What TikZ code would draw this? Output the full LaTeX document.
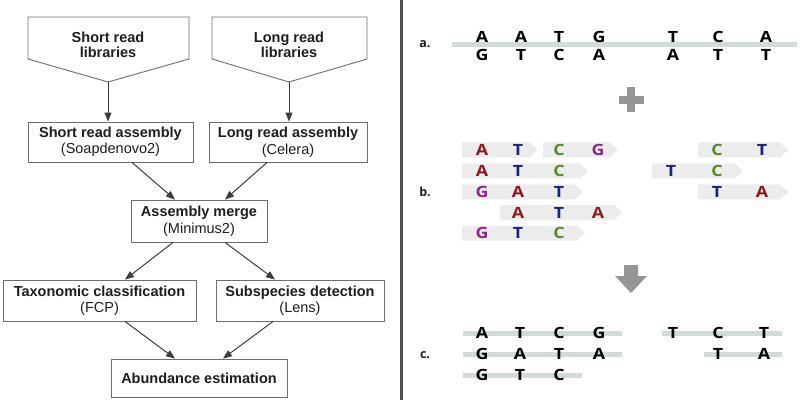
\documentclass[tikz,border=0pt]{standalone}
\usepackage{fontspec}
\setmainfont{Liberation Sans}
\newfontfamily\basefont{Open Sans}
\usetikzlibrary{arrows.meta}
\definecolor{boxgray}{RGB}{110,110,110}
\definecolor{txt}{RGB}{30,30,30}
\definecolor{arrcol}{RGB}{60,60,60}
\definecolor{barcol}{RGB}{210,218,218}
\definecolor{readcol}{RGB}{236,236,236}
\definecolor{bigarrow}{RGB}{150,150,150}
\definecolor{divcol}{RGB}{80,80,80}
\definecolor{nR}{RGB}{140,25,25}
\definecolor{nB}{RGB}{25,35,125}
\definecolor{nG}{RGB}{80,140,40}
\definecolor{nP}{RGB}{140,40,140}
\newcommand{\nuc}[5]{\node[nucl, text=#4] (#5) at (#1,#2) {\scalebox{1.15}[1]{#3}};}
\newcommand{\readshape}[3]{\fill[readcol] (#1,{#3-7.5}) -- ({#2-8},{#3-7.5}) -- (#2,#3) -- ({#2-8},{#3+7.5}) -- (#1,{#3+7.5}) -- cycle;}
\begin{document}
\begin{tikzpicture}[x=1pt,y=-1pt,
  box/.style={draw=boxgray, line width=0.9pt, minimum width=#1, minimum height=40pt, inner sep=0pt, align=center, text=txt, font=\fontsize{14.5}{16.5}\selectfont},
  lbl/.style={align=center, text=txt, inner sep=0pt, font=\fontsize{14.5}{15}\selectfont\bfseries},
  pent/.style={draw=boxgray, line width=0.9pt},
  arr/.style={draw=arrcol, line width=1pt, -{Triangle[length=9pt,width=7pt]}},
  nucl/.style={inner sep=0pt, font=\fontsize{15.5}{16}\selectfont\basefont\bfseries},
  plbl/.style={inner sep=0pt, text=txt, font=\fontsize{12.5}{13}\selectfont\basefont\bfseries},
  bar/.style={draw=barcol, line width=5pt}]
\useasboundingbox (0,0) rectangle (800,406);

% ---------------- left panel ----------------
\draw[pent] (28,17) -- (189,17) -- (189,59) -- (108,82) -- (28,59) -- cycle;
\draw[pent] (212,17) -- (367,17) -- (367,59) -- (289,82) -- (212,59) -- cycle;
\node[lbl] (srl) at (108,45) {Short read\\libraries};
\node[lbl] (lrl) at (289,45) {Long read\\libraries};
\coordinate (srltip) at (108,82);
\coordinate (lrltip) at (289,82);

\node[box=165] (sra) at (110.5,142) {\textbf{Short read assembly}\\(Soapdenovo2)};
\node[box=158] (lra) at (288,142) {\textbf{Long read assembly}\\(Celera)};
\node[box=136, minimum height=42pt] (merge) at (199,221) {\textbf{Assembly merge}\\(Minimus2)};
\node[box=193, minimum height=41pt] (tax) at (99.5,300.5) {\textbf{Taxonomic classification}\\(FCP)};
\node[box=168, minimum height=41pt] (sub) at (300,300.5) {\textbf{Subspecies detection}\\(Lens)};
\node[box=176, minimum height=38pt] (abund) at (199,378) {\textbf{Abundance estimation}};

\draw[arr] (srltip) -- (srltip |- sra.north);
\draw[arr] (lrltip) -- (lrltip |- lra.north);
\draw[arr] ([xshift=21.5pt]sra.south) -- ([xshift=-24pt]merge.north);
\draw[arr] ([xshift=-21pt]lra.south) -- ([xshift=26pt]merge.north);
\draw[arr] ([xshift=-26pt]merge.south) -- ([xshift=25.5pt]tax.north);
\draw[arr] ([xshift=26pt]merge.south) -- ([xshift=-25pt]sub.north);
\draw[arr] ([xshift=25.5pt]tax.south) -- ([xshift=-24pt]abund.north);
\draw[arr] ([xshift=-27pt]sub.south) -- ([xshift=24pt]abund.north);

% divider
\draw[divcol, line width=2.2pt] (401.5,0) -- (401.5,400);

% ---------------- a. ----------------
\node[plbl] (la) at (425,44) {a.};
\draw[bar] (452,44.5) -- (797,44.5);
\nuc{482}{37}{A}{black}{a1}\nuc{521}{37}{A}{black}{a2}\nuc{559}{37}{T}{black}{a3}\nuc{599}{37}{G}{black}{a4}
\nuc{673}{37}{T}{black}{a5}\nuc{718}{37}{C}{black}{a6}\nuc{766}{37}{A}{black}{a7}
\nuc{482}{54.5}{G}{black}{b1}\nuc{521}{54.5}{T}{black}{b2}\nuc{559}{54.5}{C}{black}{b3}\nuc{599}{54.5}{A}{black}{b4}
\nuc{673}{54.5}{A}{black}{b5}\nuc{718}{54.5}{T}{black}{b6}\nuc{766}{54.5}{T}{black}{b7}

% plus
\fill[bigarrow] (618.5,96) rectangle (643.5,104);
\fill[bigarrow] (627,87.5) rectangle (635,112.5);

% ---------------- b. ----------------
\node[plbl] (lb) at (425,192) {b.};
\readshape{462}{538}{150}
\readshape{543}{618}{150}
\readshape{698}{788}{150}
\readshape{462}{588}{171}
\readshape{652}{743}{171}
\readshape{462}{583}{192}
\readshape{698}{788}{192}
\readshape{500}{622}{212.5}
\readshape{462}{585}{233}
\nuc{482}{150}{A}{nR}{r11}\nuc{518}{150}{T}{nB}{r12}\nuc{559}{150}{C}{nG}{r13}\nuc{598}{150}{G}{nP}{r14}
\nuc{717}{150}{C}{nG}{r15}\nuc{762}{150}{T}{nB}{r16}
\nuc{482}{171}{A}{nR}{r21}\nuc{518}{171}{T}{nB}{r22}\nuc{559}{171}{C}{nG}{r23}
\nuc{671}{171}{T}{nB}{r24}\nuc{717}{171}{C}{nG}{r25}
\nuc{482}{192}{G}{nP}{r31}\nuc{518}{192}{A}{nR}{r32}\nuc{559}{192}{T}{nB}{r33}
\nuc{717}{192}{T}{nB}{r34}\nuc{762}{192}{A}{nR}{r35}
\nuc{518}{212.5}{A}{nR}{r41}\nuc{559}{212.5}{T}{nB}{r42}\nuc{598}{212.5}{A}{nR}{r43}
\nuc{482}{233}{G}{nP}{r51}\nuc{518}{233}{T}{nB}{r52}\nuc{559}{233}{C}{nG}{r53}

% down arrow
\fill[bigarrow] (624,265) -- (638,265) -- (638,276) -- (647,276) -- (631,293) -- (615,276) -- (624,276) -- cycle;

% ---------------- c. ----------------
\node[plbl] (lc) at (425,355) {c.};
\draw[bar] (463,333) -- (622,333);
\draw[bar] (662,333) -- (782,333);
\draw[bar] (463,354) -- (622,354);
\draw[bar] (704,354) -- (782,354);
\draw[bar] (463,375) -- (582,375);
\nuc{482}{333}{A}{black}{c11}\nuc{520}{333}{T}{black}{c12}\nuc{559}{333}{C}{black}{c13}\nuc{599}{333}{G}{black}{c14}
\nuc{673}{333}{T}{black}{c15}\nuc{718}{333}{C}{black}{c16}\nuc{764}{333}{T}{black}{c17}
\nuc{482}{354}{G}{black}{c21}\nuc{520}{354}{A}{black}{c22}\nuc{559}{354}{T}{black}{c23}\nuc{599}{354}{A}{black}{c24}
\nuc{718}{354}{T}{black}{c25}\nuc{764}{354}{A}{black}{c26}
\nuc{482}{375}{G}{black}{c31}\nuc{520}{375}{T}{black}{c32}\nuc{559}{375}{C}{black}{c33}
\end{tikzpicture}
\end{document}
